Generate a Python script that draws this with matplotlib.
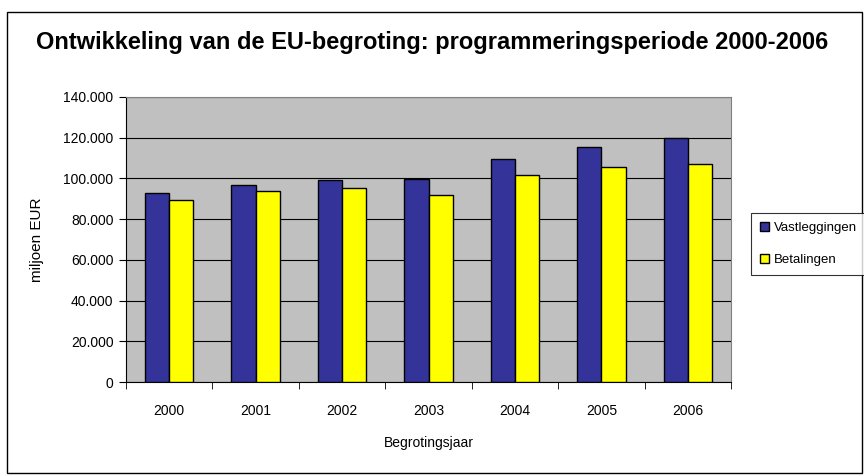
import numpy as np
import matplotlib.pyplot as plt
from matplotlib.ticker import FuncFormatter, MultipleLocator
from matplotlib.patches import Rectangle

jaren = ['2000', '2001', '2002', '2003', '2004', '2005', '2006']
vastleggingen = [92900, 96700, 99000, 99600, 109400, 115300, 119900]
betalingen = [89300, 93900, 95200, 92100, 101900, 105500, 107100]

plt.rcParams['font.family'] = ['Liberation Sans', 'DejaVu Sans']

fig = plt.figure(figsize=(8.64, 4.75), dpi=100)
ax = fig.add_axes([126/864, 1 - 382/475, (731 - 126)/864, (382 - 97)/475])

x = np.arange(len(jaren))
w = 0.28
ax.bar(x - w/2, vastleggingen, w, color='#333399', edgecolor='black', lw=1, label='Vastleggingen', zorder=3)
ax.bar(x + w/2, betalingen, w, color='#FFFF00', edgecolor='black', lw=1, label='Betalingen', zorder=3)

ax.set_facecolor('#C0C0C0')
ax.set_xlim(-0.5, len(jaren) - 0.5)
ax.set_ylim(0, 140000)
ax.yaxis.set_major_locator(MultipleLocator(20000))
ax.yaxis.set_major_formatter(FuncFormatter(lambda v, p: f'{int(v):,}'.replace(',', '.')))
ax.grid(axis='y', color='black', lw=0.8, zorder=0)

ax.set_xticks(x)
ax.set_xticklabels(jaren)
ax.set_xticks(np.arange(-0.5, len(jaren)), minor=True)
ax.tick_params(axis='x', which='major', length=0, pad=16, labelsize=10)
ax.tick_params(axis='x', which='minor', length=5, direction='out')
ax.tick_params(axis='y', length=5, direction='out', labelsize=10, pad=4)

for s in ['top', 'right']:
    ax.spines[s].set_color('#808080')
for s in ['left', 'bottom']:
    ax.spines[s].set_color('black')

ax.set_xlabel('Begrotingsjaar', fontsize=10, labelpad=13)
ax.set_ylabel('miljoen EUR', fontsize=11, labelpad=14)

fig.suptitle('Ontwikkeling van de EU-begroting: programmeringsperiode 2000-2006',
             fontsize=17, fontweight='bold', y=1 - 43/475, va='center')

leg = fig.legend(loc='upper left', bbox_to_anchor=(751/864, 1 - 213/475),
                 frameon=True, fancybox=False, fontsize=9.5, handlelength=0.7,
                 handleheight=0.7, borderpad=0.7, labelspacing=1.45,
                 handletextpad=0.35, borderaxespad=0)
leg.get_frame().set_edgecolor('black')
leg.get_frame().set_linewidth(0.8)

fig.patches.append(Rectangle((7/864, 2/475), 855/864, 461/475, transform=fig.transFigure,
                             fill=False, edgecolor='black', lw=1))

fig.savefig('out.png', dpi=100)
